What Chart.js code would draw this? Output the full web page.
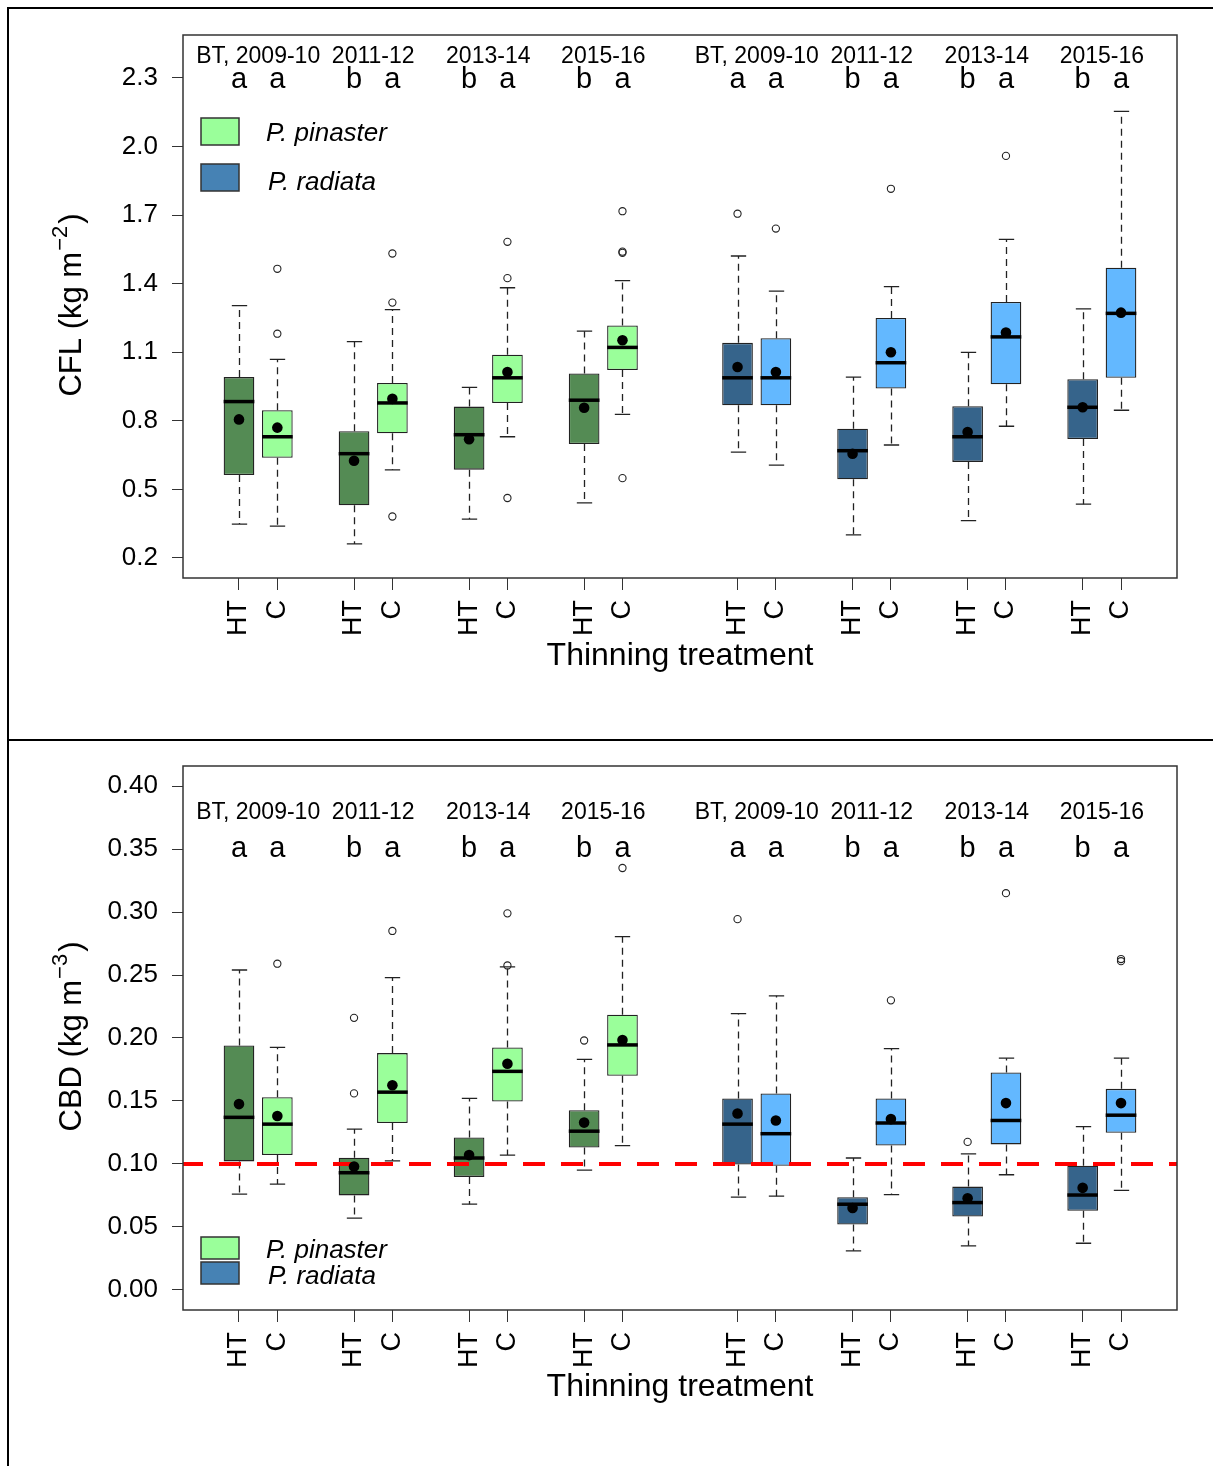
<!DOCTYPE html>
<html>
<head>
<meta charset="utf-8">
<script src="https://cdn.jsdelivr.net/npm/chart.js@4.4.1/dist/chart.umd.min.js"></script>
<style>
  body { margin: 0; background: #fff; }
  #frame { position: absolute; left: 7px; top: 7px; width: 1206px; height: 1459px;
           border-left: 2px solid #000; border-top: 2px solid #000; }
  #sep { position: absolute; left: 7px; top: 739px; width: 1206px; height: 2px; background: #000; }
  canvas { position: absolute; left: 9px; }
  #cfl { top: 9px; }
  #cbd { top: 741px; }
</style>
</head>
<body>
<div id="frame"></div>
<div id="sep"></div>
<canvas id="cfl" width="1204" height="730"></canvas>
<canvas id="cbd" width="1204" height="725"></canvas>
<script>
// box positions on the x axis: 4 periods x (HT, C) for each species
const positions = [1, 2, 4, 5, 7, 8, 10, 11, 14, 15, 17, 18, 20, 21, 23, 24];
const treatments = ['HT', 'C', 'HT', 'C', 'HT', 'C', 'HT', 'C', 'HT', 'C', 'HT', 'C', 'HT', 'C', 'HT', 'C'];
const periods = ['BT, 2009-10', '2011-12', '2013-14', '2015-16', 'BT, 2009-10', '2011-12', '2013-14', '2015-16'];
const periodPos = [1.5, 4.5, 7.5, 10.5, 14.5, 17.5, 20.5, 23.5];
const letters = ['a', 'a', 'b', 'a', 'b', 'a', 'b', 'a', 'a', 'a', 'b', 'a', 'b', 'a', 'b', 'a'];
const boxColors = ['#548B54', '#9AFF9A', '#548B54', '#9AFF9A', '#548B54', '#9AFF9A', '#548B54', '#9AFF9A',
                   '#36648B', '#63B8FF', '#36648B', '#63B8FF', '#36648B', '#63B8FF', '#36648B', '#63B8FF'];
const species = ['P. pinaster', 'P. radiata'];
const speciesColors = ['#9AFF9A', '#4682B4'];

// CFL (kg m-2)
const cflTicks = [0.2, 0.5, 0.8, 1.1, 1.4, 1.7, 2.0, 2.3];
const cflLower  = [0.348, 0.339, 0.261, 0.585, 0.370, 0.730, 0.441, 0.828, 0.663, 0.606, 0.301, 0.694, 0.363, 0.776, 0.435, 0.846];
const cflQ1     = [0.563, 0.638, 0.430, 0.745, 0.586, 0.878, 0.698, 1.022, 0.868, 0.868, 0.544, 0.941, 0.620, 0.960, 0.720, 0.988];
const cflMedian = [0.884, 0.730, 0.656, 0.878, 0.739, 0.988, 0.890, 1.121, 0.988, 0.988, 0.669, 1.054, 0.730, 1.167, 0.859, 1.270];
const cflQ3     = [0.991, 0.846, 0.754, 0.965, 0.862, 1.089, 1.007, 1.217, 1.141, 1.161, 0.765, 1.250, 0.864, 1.320, 0.982, 1.470];
const cflUpper  = [1.304, 1.069, 1.146, 1.286, 0.946, 1.382, 1.192, 1.413, 1.521, 1.367, 0.991, 1.387, 1.099, 1.594, 1.290, 2.154];
const cflMean   = [0.806, 0.770, 0.625, 0.896, 0.719, 1.013, 0.857, 1.152, 1.035, 1.013, 0.656, 1.100, 0.751, 1.186, 0.859, 1.273];
const cflOutX = [2, 2, 5, 5, 5, 8, 8, 8, 11, 11, 11, 11, 14, 15, 18, 21];
const cflOutY = [1.465, 1.181, 1.532, 1.317, 0.381, 1.583, 1.424, 0.462, 1.717, 1.535, 1.540, 0.549, 1.706, 1.641, 1.815, 1.959];

// CBD (kg m-3)
const cbdTicks = [0.00, 0.05, 0.10, 0.15, 0.20, 0.25, 0.30, 0.35, 0.40];
const cbdLower  = [0.076, 0.084, 0.057, 0.1025, 0.068, 0.107, 0.095, 0.1146, 0.0736, 0.0744, 0.031, 0.0756, 0.035, 0.0914, 0.037, 0.079];
const cbdQ1     = [0.102, 0.107, 0.075, 0.1325, 0.0897, 0.1495, 0.113, 0.170, 0.0996, 0.0985, 0.0518, 0.1146, 0.0583, 0.1155, 0.0628, 0.1248];
const cbdMedian = [0.137, 0.1316, 0.093, 0.157, 0.1047, 0.1735, 0.126, 0.1945, 0.1316, 0.124, 0.068, 0.1325, 0.0693, 0.1345, 0.0753, 0.1387];
const cbdQ3     = [0.194, 0.153, 0.105, 0.188, 0.121, 0.1925, 0.1427, 0.2185, 0.152, 0.156, 0.0736, 0.152, 0.082, 0.1727, 0.0985, 0.1596];
const cbdUpper  = [0.254, 0.1925, 0.1277, 0.248, 0.152, 0.2565, 0.183, 0.2805, 0.2194, 0.2335, 0.1047, 0.1916, 0.108, 0.184, 0.1296, 0.184];
const cbdMean   = [0.1475, 0.138, 0.098, 0.1625, 0.107, 0.1795, 0.1328, 0.1984, 0.140, 0.1345, 0.065, 0.1356, 0.0727, 0.1483, 0.081, 0.1483];
const cbdOutX = [2, 4, 4, 5, 8, 8, 10, 11, 14, 18, 20, 21, 24, 24];
const cbdOutY = [0.259, 0.216, 0.156, 0.285, 0.299, 0.2576, 0.198, 0.335, 0.2944, 0.2299, 0.1175, 0.315, 0.2627, 0.261];
const cbdThreshold = 0.10;

const FONT = "'Liberation Sans', Arial, sans-serif";
Chart.defaults.font.family = FONT;
Chart.defaults.color = '#000';

function makeChart(id, c) {
  const canvas = document.getElementById(id);
  const H = canvas.height;

  const boxParts = {
    id: 'boxParts',
    beforeDatasetsDraw(chart) {
      const {ctx, scales: {y}} = chart;
      const bars = chart.getDatasetMeta(0).data;
      ctx.save();
      ctx.strokeStyle = '#222';
      ctx.lineWidth = 1.3;
      bars.forEach((bar, i) => {
        const cx = Math.round(bar.x) + 0.5, half = bar.width / 4;
        const yl = y.getPixelForValue(c.lower[i]), yu = y.getPixelForValue(c.upper[i]);
        const y1 = y.getPixelForValue(c.q1[i]), y3 = y.getPixelForValue(c.q3[i]);
        ctx.setLineDash([7, 5]);
        ctx.beginPath();
        ctx.moveTo(cx, y1); ctx.lineTo(cx, yl);
        ctx.moveTo(cx, y3); ctx.lineTo(cx, yu);
        ctx.stroke();
        ctx.setLineDash([]);
        ctx.beginPath();
        ctx.moveTo(cx - half, yl); ctx.lineTo(cx + half, yl);
        ctx.moveTo(cx - half, yu); ctx.lineTo(cx + half, yu);
        ctx.stroke();
      });
      ctx.restore();
    },
    afterDatasetDraw(chart, args) {
      if (args.index !== 0) return;
      const {ctx, scales: {y}} = chart;
      ctx.save();
      ctx.strokeStyle = '#000';
      ctx.lineWidth = 3.5;
      args.meta.data.forEach((bar, i) => {
        const ym = y.getPixelForValue(c.median[i]);
        ctx.beginPath();
        ctx.moveTo(bar.x - bar.width / 2, ym);
        ctx.lineTo(bar.x + bar.width / 2, ym);
        ctx.stroke();
      });
      ctx.restore();
    },
    afterDraw(chart) {
      const {ctx, chartArea: a, scales: {x, y}} = chart;
      ctx.save();
      // frame
      ctx.strokeStyle = '#333';
      ctx.lineWidth = 1.5;
      ctx.strokeRect(a.left, a.top, a.right - a.left, a.bottom - a.top);
      // period labels and letters
      ctx.fillStyle = '#000';
      ctx.textAlign = 'center';
      ctx.textBaseline = 'middle';
      ctx.font = '23px ' + FONT;
      periods.forEach((t, i) => ctx.fillText(t, x.getPixelForValue(periodPos[i]), y.getPixelForValue(c.periodY)));
      ctx.font = '29px ' + FONT;
      letters.forEach((t, i) => ctx.fillText(t, x.getPixelForValue(positions[i]), y.getPixelForValue(c.letterY)));
      // legend
      ctx.textAlign = 'left';
      ctx.font = 'italic 26px ' + FONT;
      ctx.lineWidth = 1.5;
      species.forEach((s, i) => {
        const L = c.legend[i];
        ctx.fillStyle = speciesColors[i];
        ctx.fillRect(a.left + 18, a.top + L.box, 38, L.h);
        ctx.strokeStyle = '#333';
        ctx.strokeRect(a.left + 18, a.top + L.box, 38, L.h);
        ctx.fillStyle = '#000';
        ctx.fillText(s, a.left + L.tx, a.top + L.ty);
      });
      // y title with superscript
      const big = '31px ' + FONT, small = '22px ' + FONT;
      ctx.font = big;
      const w1 = ctx.measureText(c.title[0]).width, w3 = ctx.measureText(c.title[2]).width;
      ctx.font = small;
      const w2 = ctx.measureText(c.title[1]).width;
      ctx.translate(72, (a.top + a.bottom) / 2);
      ctx.rotate(-Math.PI / 2);
      ctx.textBaseline = 'alphabetic';
      let x0 = -(w1 + w2 + w3) / 2;
      ctx.font = big; ctx.fillText(c.title[0], x0, 0);
      ctx.font = small; ctx.fillText(c.title[1], x0 + w1 + 1, -14);
      ctx.font = big; ctx.fillText(c.title[2], x0 + w1 + w2 + 3, 0);
      ctx.restore();
    }
  };

  const datasets = [{
    type: 'bar',
    data: positions.map((p, i) => ({x: p, y: [c.q1[i], c.q3[i]]})),
    backgroundColor: boxColors,
    borderColor: '#222',
    borderWidth: 1.3,
    borderSkipped: false,
    categoryPercentage: 1,
    barPercentage: 0.8,
    order: 4
  }];
  if (c.threshold !== undefined) {
    datasets.push({
      type: 'line',
      data: [{x: -0.46, y: c.threshold}, {x: 25.46, y: c.threshold}],
      borderColor: '#FF0000',
      borderWidth: 4,
      borderDash: [22, 16],
      borderDashOffset: 2,
      pointRadius: 0,
      order: 3
    });
  }
  datasets.push({
    type: 'scatter',
    data: c.outX.map((p, i) => ({x: p, y: c.outY[i]})),
    pointRadius: 3.6,
    pointBackgroundColor: 'rgba(0,0,0,0)',
    pointBorderColor: '#222',
    pointBorderWidth: 1.1,
    order: 2
  });
  datasets.push({
    type: 'scatter',
    data: positions.map((p, i) => ({x: p, y: c.mean[i]})),
    pointRadius: 5.3,
    pointBackgroundColor: '#000',
    pointBorderWidth: 0,
    order: 1
  });

  return new Chart(canvas, {
    type: 'bar',
    data: {datasets},
    options: {
      responsive: false,
      animation: false,
      events: [],
      layout: {padding: {top: c.top, right: 36, left: 0, bottom: 0}},
      plugins: {legend: {display: false}, tooltip: {enabled: false}},
      scales: {
        x: {
          type: 'linear',
          min: -0.46,
          max: 25.46,
          offset: false,
          afterBuildTicks: s => { s.ticks = positions.map(v => ({value: v})); },
          afterFit: s => { s.height = H - 569; s.paddingLeft = 0; s.paddingRight = 0; },
          ticks: {
            autoSkip: false,
            minRotation: 90,
            maxRotation: 90,
            padding: 10,
            font: {size: 27},
            color: '#000',
            callback: v => treatments[positions.indexOf(v)]
          },
          grid: {drawOnChartArea: false, drawTicks: true, tickLength: 12, color: '#333', offset: false},
          border: {display: false},
          title: {display: true, text: 'Thinning treatment', font: {size: 32}, color: '#000',
                  padding: {top: 0, bottom: c.titlePad}}
        },
        y: {
          type: 'linear',
          min: c.yMin,
          max: c.yMax,
          afterBuildTicks: s => { s.ticks = c.ticks.map(v => ({value: v})); },
          afterFit: s => { s.width = 174; s.paddingTop = 0; s.paddingBottom = 0; },
          ticks: {
            padding: 14,
            font: {size: 26},
            color: '#000',
            callback: v => v.toFixed(c.decimals)
          },
          grid: {drawOnChartArea: false, drawTicks: true, tickLength: 11, color: '#333'},
          border: {display: false}
        }
      }
    },
    plugins: [boxParts]
  });
}

makeChart('cfl', {
  lower: cflLower, q1: cflQ1, median: cflMedian, q3: cflQ3, upper: cflUpper, mean: cflMean,
  outX: cflOutX, outY: cflOutY, ticks: cflTicks, decimals: 1,
  yMin: 0.112, yMax: 2.488, top: 26, titlePad: 64,
  periodY: 2.395, letterY: 2.293,
  title: ['CFL (kg m', '\u22122', ')'],
  legend: [{box: 83, h: 27, tx: 83, ty: 99}, {box: 129, h: 27, tx: 85, ty: 148}]
});

makeChart('cbd', {
  lower: cbdLower, q1: cbdQ1, median: cbdMedian, q3: cbdQ3, upper: cbdUpper, mean: cbdMean,
  outX: cbdOutX, outY: cbdOutY, ticks: cbdTicks, decimals: 2, threshold: cbdThreshold,
  yMin: -0.016, yMax: 0.416, top: 25, titlePad: 60,
  periodY: 0.379, letterY: 0.35,
  title: ['CBD (kg m', '\u22123', ')'],
  legend: [{box: 471, h: 22, tx: 83, ty: 485}, {box: 496, h: 22, tx: 85, ty: 511}]
});
</script>
</body>
</html>
